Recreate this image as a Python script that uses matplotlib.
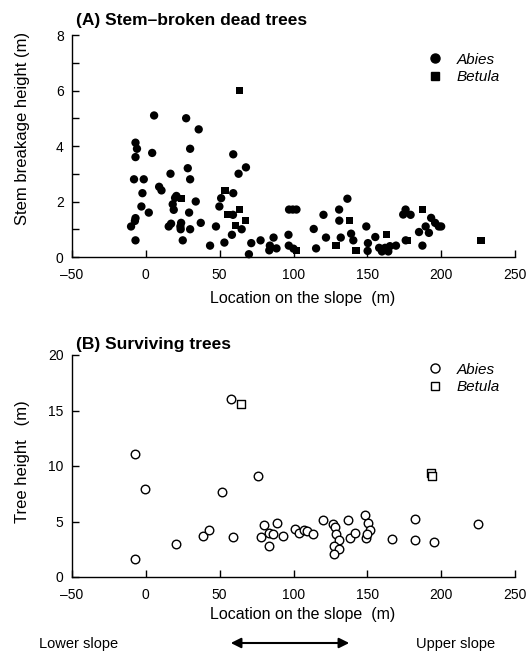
import matplotlib
matplotlib.use("Agg")
import matplotlib.pyplot as plt
from matplotlib.lines import Line2D
from matplotlib.patches import FancyArrowPatch

plt.rcParams['font.family'] = ['Liberation Sans', 'DejaVu Sans']

# Panel A: stem-broken dead trees (location m, breakage height m)
dead_abies_x = [-7, -6, -7, -8, -1.4, -2.3, -3, 2, -7, -7.4, -10, -7,
                5.6, 4.3, 9, 10.6, 16.7, 20.7, 19.8, 18.2, 18.9, 15.5, 17.1,
                23.9, 23.4, 23.6, 25, 27.3, 30, 28.4, 30, 29.3, 30, 33.8, 35.8,
                37.2, 43.5, 47.5, 51, 49.8, 53.2, 59.2, 62.8, 67.8, 59.2, 59,
                58.3, 64.9, 69.8, 71.4, 77.7, 86.5, 84, 83.6, 88.5, 96.6, 96.8,
                97, 99.5, 102, 100, 113.7, 115.3, 120.3, 122, 130.9, 131, 132,
                136.5, 139, 140.5, 149.3, 150.4, 150.2, 155.4, 158, 159.9, 162,
                164.2, 165.3, 169.4, 176, 174.3, 175.9, 179.3, 185, 187.3,
                189.5, 191.7, 193.2, 195.9, 198.4, 200]
dead_abies_y = [4.12, 3.9, 3.6, 2.8, 2.8, 2.3, 1.82, 1.6, 1.4, 1.3, 1.1, 0.6,
                5.1, 3.75, 2.53, 2.4, 3.0, 2.2, 2.13, 1.9, 1.7, 1.1, 1.2,
                1.23, 1.1, 1.0, 0.6, 5.0, 3.9, 3.2, 2.8, 1.6, 1.0, 2.0, 4.6,
                1.23, 0.41, 1.1, 2.12, 1.82, 0.52, 3.7, 3.0, 3.23, 2.3, 1.52,
                0.8, 1.0, 0.1, 0.5, 0.6, 0.7, 0.41, 0.24, 0.31, 0.8, 0.41,
                1.71, 1.71, 1.71, 0.3, 1.01, 0.31, 1.52, 0.7, 1.71, 1.31, 0.7,
                2.1, 0.84, 0.6, 1.1, 0.5, 0.22, 0.72, 0.33, 0.2, 0.33,
                0.2, 0.39, 0.41, 0.6, 1.53, 1.71, 1.52, 0.9, 0.41,
                1.1, 0.87, 1.41, 1.23, 1.1, 1.1]
dead_betula_x = [63.7, 53.6, 23.9, 63.7, 55.2, 67.3, 60.8, 102, 137.8, 128.8,
                 142.3, 163, 177.5, 187.4, 227]
dead_betula_y = [6.0, 2.4, 2.12, 1.7, 1.52, 1.31, 1.13, 0.23, 1.3, 0.41,
                 0.22, 0.82, 0.6, 1.71, 0.6]

# Panel B: surviving trees (location m, tree height m)
live_abies_x = [57.4, -7, -0.9, 75.9, 51.4, -7, 20.7, 38.7, 42.6, 58.8, 79.7,
                88.5, 77.9, 83.6, 86.3, 93, 83.6, 101.1, 103.4, 106.8, 109,
                113.5, 119.8, 126.6, 128, 128.8, 130.6, 127.5, 131, 127.5,
                137.2, 138.3, 141.7, 148.4, 150.7, 151.8, 148.9, 150, 166.4,
                182.2, 182.2, 195.3, 225]
live_abies_y = [16.0, 11.07, 7.94, 9.08, 7.67, 1.65, 2.98, 3.67, 4.27, 3.58,
                4.66, 4.87, 3.64, 3.97, 3.85, 3.73, 2.8, 4.36, 4.0, 4.2, 4.15,
                3.85, 5.1, 4.8, 4.5, 3.9, 3.3, 2.8, 2.55, 2.1,
                5.17, 3.55, 3.97, 5.62, 4.9, 4.2, 3.55, 3.9, 3.46,
                5.26, 3.37, 3.16, 4.75]
live_betula_x = [64.6, 192.8, 194.1]
live_betula_y = [15.55, 9.38, 9.08]

x_ticks = [-50, 0, 50, 100, 150, 200, 250]
x_labels = ['\u201350', '0', '50', '100', '150', '200', '250']

W, H = 532, 656
fig = plt.figure(figsize=(W / 100, H / 100), dpi=100)

ax_a = fig.add_axes([72 / W, 1 - 257 / H, 443 / W, 222 / H])
ax_b = fig.add_axes([72 / W, 1 - 577 / H, 443 / W, 222 / H])


def style_axis(ax):
    for side in ['top', 'right']:
        ax.spines[side].set_visible(False)
    for side in ['left', 'bottom']:
        ax.spines[side].set_linewidth(1.0)
    ax.tick_params(direction='in', length=5, width=1, labelsize=10)
    ax.tick_params(axis='x', pad=8)
    ax.tick_params(axis='y', pad=6)
    ax.tick_params(which='minor', direction='in', length=5, width=1)
    ax.set_xlim(-50, 250)
    ax.set_xticks(x_ticks)
    ax.set_xticklabels(x_labels)
    ax.set_xlabel('Location on the slope  (m)', fontsize=11.5)


# Panel A
ax_a.scatter(dead_abies_x, dead_abies_y, s=36, marker='o', color='black',
             edgecolors='none', clip_on=False, zorder=3)
ax_a.scatter(dead_betula_x, dead_betula_y, s=26, marker='s', color='black',
             edgecolors='none', clip_on=False, zorder=3)
style_axis(ax_a)
ax_a.set_ylim(0, 8)
ax_a.set_yticks([0, 2, 4, 6, 8])
ax_a.set_yticks([1, 3, 5, 7], minor=True)
ax_a.set_ylabel('Stem breakage height (m)', fontsize=12)
ax_a.yaxis.set_label_coords(-0.095, 0.58)
ax_a.xaxis.set_label_coords(0.52, -0.153)

handles_a = [Line2D([], [], ls='none', marker='o', ms=6.5, color='black'),
             Line2D([], [], ls='none', marker='s', ms=5.5, color='black')]
ax_a.legend(handles_a, ['Abies', 'Betula'], loc='upper left',
            bbox_to_anchor=(0.785, 0.955), frameon=False, handlelength=1,
            handletextpad=0.9, labelspacing=0.25, borderpad=0,
            prop={'style': 'italic', 'size': 11})

# Panel B
ax_b.scatter(live_abies_x, live_abies_y, s=38, marker='o', facecolors='white',
             edgecolors='black', linewidths=1.0, clip_on=False, zorder=3)
ax_b.scatter(live_betula_x, live_betula_y, s=30, marker='s', facecolors='white',
             edgecolors='black', linewidths=1.0, clip_on=False, zorder=3)
style_axis(ax_b)
ax_b.set_ylim(0, 20)
ax_b.set_yticks([0, 5, 10, 15, 20])
ax_b.set_ylabel('Tree height   (m)', fontsize=12)
ax_b.yaxis.set_label_coords(-0.095, 0.52)
ax_b.xaxis.set_label_coords(0.52, -0.135)

handles_b = [Line2D([], [], ls='none', marker='o', ms=6.5, mfc='white',
                    mec='black', mew=1.0),
             Line2D([], [], ls='none', marker='s', ms=5.5, mfc='white',
                    mec='black', mew=1.0)]
ax_b.legend(handles_b, ['Abies', 'Betula'], loc='upper left',
            bbox_to_anchor=(0.785, 1.0), frameon=False, handlelength=1,
            handletextpad=0.9, labelspacing=0.25, borderpad=0,
            prop={'style': 'italic', 'size': 11})

# Panel titles
fig.text(76 / W, 1 - 21 / H, '(A) Stem\u2013broken dead trees', fontsize=12.5,
         fontweight='bold', va='center', ha='left')
fig.text(76 / W, 1 - 345 / H, '(B) Surviving trees', fontsize=12.5,
         fontweight='bold', va='center', ha='left')

# Slope direction note
fig.text(79 / W, 1 - 644 / H, 'Lower slope', fontsize=10.5, ha='center', va='center')
fig.text(456 / W, 1 - 644 / H, 'Upper slope', fontsize=10.5, ha='center', va='center')
fig.add_artist(FancyArrowPatch(
    (228 / W, 1 - 643 / H), (352 / W, 1 - 643 / H), transform=fig.transFigure,
    arrowstyle='<|-|>,head_length=6,head_width=3', color='black', lw=1.5))

fig.savefig('out.png', dpi=100)
